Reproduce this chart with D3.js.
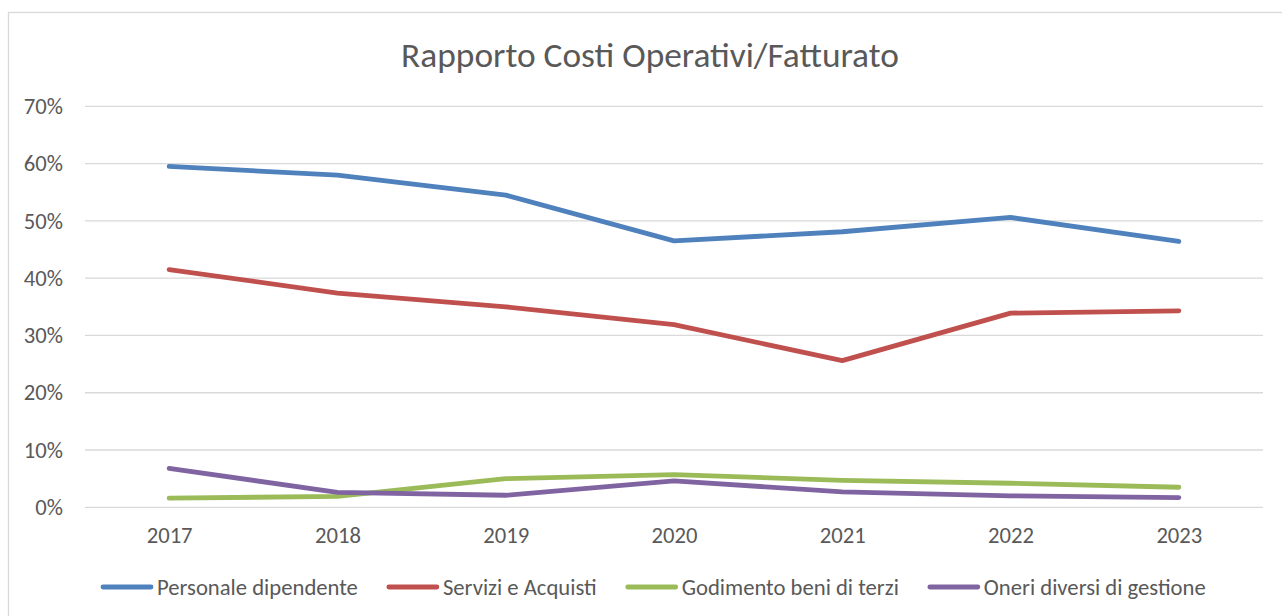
<!DOCTYPE html>
<html><head><meta charset="utf-8">
<script src="https://cdn.jsdelivr.net/npm/d3@7"></script>
<style>
html,body{margin:0;padding:0;background:#fff;}
svg{display:block;}
text{font-family:Carlito, Lato, sans-serif;fill:#595959;}
</style></head>
<body>
<svg id="c" width="1282" height="616"></svg>
<script>
const years = ["2017","2018","2019","2020","2021","2022","2023"];
const personale = [59.5, 58.0, 54.5, 46.5, 48.1, 50.6, 46.4];
const servizi   = [41.5, 37.4, 35.0, 31.9, 25.6, 33.9, 34.3];
const godimento = [1.6, 1.9, 5.0, 5.7, 4.7, 4.2, 3.5];
const oneri     = [6.8, 2.6, 2.1, 4.6, 2.7, 2.0, 1.7];
const seriesNames = ["Personale dipendente","Servizi e Acquisti","Godimento beni di terzi","Oneri diversi di gestione"];
const yTicks = [0,10,20,30,40,50,60,70];
const title = "Rapporto Costi Operativi/Fatturato";

const colors = ["#4f81bd","#c0504d","#9bbb59","#8064a2"];
const seriesData = [personale, servizi, godimento, oneri];

const svg = d3.select("#c");

// outer frame
svg.append("rect").attr("x",8.5).attr("y",12.5).attr("width",1300).attr("height",640)
  .attr("fill","#fff").attr("stroke","#d9d9d9").attr("stroke-width",1.3);

const x = d3.scalePoint().domain(years).range([85,1263]).padding(0.5);
const y = d3.scaleLinear().domain([0,70]).range([507.3,106.3]);

// fit helper
function fit(sel, target){
  const w = sel.node().getComputedTextLength();
  const fs = parseFloat(sel.attr("font-size"));
  sel.attr("font-size", fs*target/w);
  return fs*target/w;
}

// title
const t = svg.append("text").attr("x",650).attr("y",67).attr("text-anchor","middle").attr("font-size",30).text(title);
fit(t, 498);

// measure label font size
const probe = svg.append("text").attr("font-size",20).text(seriesNames[0]);
const fs = fit(probe, 201);
probe.remove();

// gridlines
svg.append("g").selectAll("line").data(yTicks).join("line")
  .attr("x1",85).attr("x2",1263).attr("y1",d=>y(d)).attr("y2",d=>y(d))
  .attr("stroke","#d9d9d9").attr("stroke-width",1.3);

// y axis labels
const yAxis = d3.axisLeft(y).tickValues(yTicks).tickFormat(d=>d+"%").tickSize(0).tickPadding(0);
const gy = svg.append("g").attr("transform","translate(63,0)").call(yAxis);
gy.select(".domain").remove();
gy.selectAll("text").attr("font-size",fs).attr("fill","#595959").attr("font-family",null);

// x axis labels
const xAxis = d3.axisBottom(x).tickSize(0).tickPadding(0);
const gx = svg.append("g").attr("transform","translate(0,527)").call(xAxis);
gx.select(".domain").remove();
gx.selectAll("text").attr("font-size",fs).attr("fill","#595959").attr("font-family",null).attr("dy","0.71em");

// lines
const line = d3.line().x((d,i)=>x(years[i])).y(d=>y(d));
svg.append("g").selectAll("path").data(seriesData).join("path")
  .attr("d",line).attr("fill","none").attr("stroke",(d,i)=>colors[i])
  .attr("stroke-width",4.8).attr("stroke-linecap","round").attr("stroke-linejoin","round");

// legend
const lg = svg.append("g");
let lx = 101;
const ly = 587;
seriesNames.forEach((n,i)=>{
  lg.append("line").attr("x1",lx+2).attr("x2",lx+50).attr("y1",ly).attr("y2",ly)
    .attr("stroke",colors[i]).attr("stroke-width",4.8).attr("stroke-linecap","round");
  const tx = lg.append("text").attr("x",lx+56).attr("y",ly).attr("dy","0.35em").attr("font-size",fs).text(n);
  lx = lx + 56 + tx.node().getComputedTextLength() + 29;
});
</script>
</body></html>
